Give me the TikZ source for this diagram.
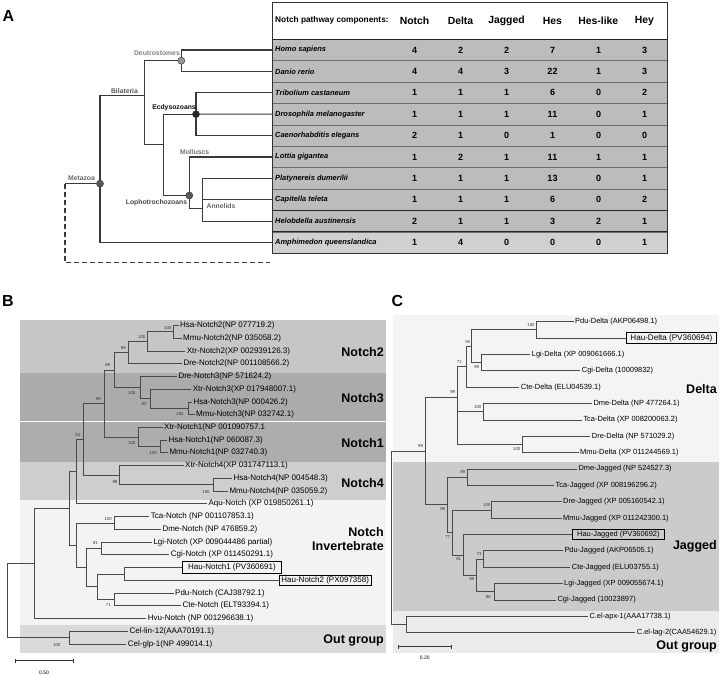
\documentclass[tikz,border=0pt]{standalone}
\usepackage{fontspec}
\setmainfont{Liberation Sans}
\usetikzlibrary{calc}
\definecolor{tline}{HTML}{3A3A3A}
\definecolor{bline}{HTML}{4A4A4A}
\definecolor{rowg}{HTML}{BCBCBC}
\definecolor{rowl}{HTML}{D0D0D0}
\definecolor{rowsep}{HTML}{6E6E6E}
\definecolor{bandNtwo}{HTML}{C6C6C6}
\definecolor{bandNthree}{HTML}{ABABAB}
\definecolor{bandNone}{HTML}{ADADAD}
\definecolor{bandNfour}{HTML}{CECECE}
\definecolor{bandInv}{HTML}{F3F3F3}
\definecolor{bandOutB}{HTML}{DADADA}
\definecolor{bandDelta}{HTML}{F4F4F4}
\definecolor{bandJag}{HTML}{CBCBCB}
\definecolor{bandOutC}{HTML}{EBEBEB}
\tikzset{
 tA/.style={draw=tline, line width=1.1pt},
 tb/.style={draw=bline, line width=0.8pt},
 bl/.style={anchor=west, inner xsep=1.5pt, inner ysep=0pt, font=\fontsize{8}{9}\selectfont},
 cl/.style={anchor=west, inner xsep=1.5pt, inner ysep=0pt, font=\fontsize{7.45}{9}\selectfont},
 hbox/.style={draw=black, line width=0.8pt},
 bs/.style={inner sep=0pt, font=\fontsize{4.3}{5}\selectfont, text=black!80},
 bandlab/.style={anchor=east, inner sep=0pt, align=right, font=\bfseries\fontsize{12.5}{13.4}\selectfont},
 panlab/.style={inner sep=0pt, font=\bfseries\fontsize{16}{16}\selectfont},
 hdr/.style={inner sep=0pt, font=\bfseries\fontsize{10.4}{11}\selectfont},
 sp/.style={anchor=west, inner sep=0pt, font=\bfseries\itshape\fontsize{7.45}{8}\selectfont},
 num/.style={inner sep=0pt, font=\bfseries\fontsize{9}{10}\selectfont},
 clade/.style={inner sep=0pt, font=\bfseries\fontsize{6.8}{7}\selectfont},
 dot/.style={circle, inner sep=0pt, minimum size=7pt, draw=tline, line width=0.5pt},
 sbar/.style={draw=black!80, line width=0.7pt},
 sblab/.style={inner sep=0pt, font=\fontsize{5}{5}\selectfont},
}
\begin{document}
\begin{tikzpicture}[x=1pt,y=-1pt]
\useasboundingbox (0,0) rectangle (721,676);
\fill[white] (0,0) rectangle (721,676);

% ================= Panel A =================
\node[panlab] (labA) at (8.5,16) {A};
% table
\foreach \i in {0,...,8}
  \fill[rowg] (272.3,{39.3+21.4*\i}) rectangle (667.3,{39.3+21.4*(\i+1)});
\fill[rowl] (272.3,231.9) rectangle (667.3,253.3);
\foreach \i in {1,...,9}
  \draw[rowsep, line width=0.7pt] (272.3,{39.3+21.4*\i}) -- (667.3,{39.3+21.4*\i});
\draw[black!85, line width=0.9pt] (272.3,39.3) -- (667.3,39.3);
\draw[black!85, line width=0.9pt] (272.3,210.5) -- (667.3,210.5);
\draw[black!85, line width=0.9pt] (272.3,231.9) -- (667.3,231.9);
\draw[black!80, line width=1pt] (272.3,2.3) rectangle (667.3,253.3);
\node[anchor=west, inner sep=0pt, font=\bfseries\fontsize{8.3}{9}\selectfont] (hdr0) at (275,20.8) {Notch pathway components:};
\foreach \h/\x [count=\j] in {Notch/414.5, Delta/460.5, Jagged/506.5, Hes/552.3, Hes-like/598.3, Hey/644.3}
  \node[hdr] (hdr\j) at (\x,20.8) {\h};
\foreach \n/\vals [count=\i] in {
  Homo sapiens/{4,2,2,7,1,3},
  Danio rerio/{4,4,3,22,1,3},
  Tribolium castaneum/{1,1,1,6,0,2},
  Drosophila melanogaster/{1,1,1,11,0,1},
  Caenorhabditis elegans/{2,1,0,1,0,0},
  Lottia gigantea/{1,2,1,11,1,1},
  Platynereis dumerilii/{1,1,1,13,0,1},
  Capitella teleta/{1,1,1,6,0,2},
  Helobdella austinensis/{2,1,1,3,2,1},
  Amphimedon queenslandica/{1,4,0,0,0,1}}
{
  \node[sp] (sp\i) at (275,{28.6+21.4*\i}) {\n};
  \coordinate (lf\i) at (272.3,{28.6+21.4*\i});
  \foreach \v [count=\j] in \vals
    \node[num] (v\i-\j) at ({368.5+46*\j},{28.6+21.4*\i}) {\v};
}
% tree
\coordinate (deut) at (181.3,60.7);
\coordinate (bil) at (144.3,95.8);
\coordinate (prot) at (163.3,144.9);
\coordinate (ecd) at (196,114.2);
\coordinate (lop) at (189.3,195.5);
\coordinate (ann) at (202.7,208.5);
\coordinate (meta) at (100,183.7);
\coordinate (mroot) at (65,183.7);
\coordinate (dend) at (270,262.7);
\draw[tA] (deut) |- (lf1); \draw[tA] (deut) |- (lf2);
\draw[tA] (bil) |- (deut); \draw[tA] (bil) |- (prot);
\draw[tA] (prot) |- (ecd); \draw[tA] (prot) |- (lop);
\draw[tA] (ecd) |- (lf3); \draw[tA] (ecd) -- (lf4); \draw[tA] (ecd) |- (lf5);
\draw[tA] (lop) |- (lf6); \draw[tA] (lop) |- (ann);
\draw[tA] (ann) |- (lf7); \draw[tA] (ann) |- (lf8); \draw[tA] (ann) |- (lf9);
\draw[tA] (meta) |- (bil); \draw[tA] (meta) |- (lf10);
\draw[tA] (meta) -- (mroot);
\draw[tA, dash pattern=on 5pt off 3pt] (mroot) |- (dend);
\node[dot, fill=black!40] (ndeut) at (deut) {};
\node[dot, fill=black!85] (necd) at (ecd) {};
\node[dot, fill=black!65] (nlop) at (lop) {};
\node[dot, fill=black!65] (nmeta) at (meta) {};
\node[clade, text=black!50, anchor=east] (tDeut) at (180,53.5) {Deutrostomes};
\node[clade, text=black!65] (tBil) at (124.5,90.8) {Bilateria};
\node[clade, text=black!95] (tEcd) at (174,108) {Ecdysozoans};
\node[clade, text=black!55] (tMol) at (194.7,152.5) {Molluscs};
\node[clade, text=black!72] (tLop) at (156.5,202.5) {Lophotrochozoans};
\node[clade, text=black!60] (tAnn) at (221,206) {Annelids};
\node[clade, text=black!60] (tMet) at (81.5,177.7) {Metazoa};

% ================= Panel B =================
\node[panlab] (labB) at (8,301) {B};
\fill[bandNtwo] (20,320) rectangle (386,373.3);
\fill[bandNthree] (20,373.3) rectangle (386,421);
\fill[bandNone] (20,421) rectangle (386,461.7);
\fill[bandNfour] (20,461.7) rectangle (386,500);
\fill[bandInv] (20,500) rectangle (386,625);
\fill[bandOutB] (20,625) rectangle (386,653.3);
\draw[white, line width=0.8pt] (20,421) -- (386,421);
\node[bandlab] (lN2) at (384,351.7) {Notch2};
\node[bandlab] (lN3) at (384,397.7) {Notch3};
\node[bandlab] (lN1) at (384,443.3) {Notch1};
\node[bandlab] (lN4) at (384,483.3) {Notch4};
\node[bandlab] (lNI) at (384,539) {Notch\\Invertebrate};
\node[bandlab] (lOB) at (384,640.7) {Out group};
\foreach \i/\x/\t in {
1/180/{Hsa-Notch2(NP 077719.2)},
2/183/{Mmu-Notch2(NP 035058.2)},
3/186.7/{Xtr-Notch2(XP 002939126.3)},
4/183.3/{Dre-Notch2(NP 001108566.2)},
5/178.3/{Dre-Notch3(NP 571624.2)},
6/192.7/{Xtr-Notch3(XP 017948007.1)},
7/193.3/{Hsa-Notch3(NP 000426.2)},
8/196/{Mmu-Notch3(NP 032742.1)},
9/164/{Xtr-Notch1(NP 001090757.1},
10/168.3/{Hsa-Notch1(NP 060087.3)},
11/169.3/{Mmu-Notch1(NP 032740.3)},
12/185/{Xtr-Notch4(XP 031747113.1)},
13/233.3/{Hsa-Notch4(NP 004548.3)},
14/229.3/{Mmu-Notch4(NP 035059.2)},
15/208.3/{Aqu-Notch (XP 019850261.1)},
16/150.7/{Tca-Notch (NP 001107853.1)},
17/162.3/{Dme-Notch (NP 476859.2)},
18/153.3/{Lgi-Notch (XP 009044486 partial)},
19/170.7/{Cgi-Notch (XP 011450291.1)},
22/175/{Pdu-Notch (CAJ38792.1)},
23/182.3/{Cte-Notch (ELT93394.1)},
24/147.7/{Hvu-Notch (NP 001296638.1)},
25/129.3/{Cel-lin-12(AAA70191.1)},
26/127.7/{Cel-glp-1(NP 499014.1)}}
  \node[bl] (b\i) at ({\x-1.5},{325.5+12.74*(\i-1)}) {\t};
\node[bl, hbox, inner xsep=6pt, inner ysep=2pt] (b20) at (181.7,567.56) {Hau-Notch1 (PV360691)};
\node[bl, hbox, inner xsep=2pt, inner ysep=1.6pt] (b21) at (279,580.3) {Hau-Notch2 (PX097358)};
\coordinate (Na) at (173.3,331.87);
\coordinate (Nb) at (147.7,341.43);
\coordinate (Nc) at (128.3,352.57);
\coordinate (Nd) at (188,408.31);
\coordinate (Ne) at (150,398.76);
\coordinate (Nf) at (140.7,387.61);
\coordinate (Ng) at (114,370.09);
\coordinate (Nh) at (160.7,446.53);
\coordinate (Ni) at (138.3,436.98);
\coordinate (Nj) at (104,403.53);
\coordinate (Nk) at (213.3,484.75);
\coordinate (Nl) at (119.3,475.2);
\coordinate (Nm) at (83.3,439.37);
\coordinate (Nn) at (76.7,471.6);
\coordinate (Np) at (114.3,522.97);
\coordinate (Nq) at (101,548.45);
\coordinate (Nr) at (124.3,573.93);
\coordinate (Ns) at (114.3,599.41);
\coordinate (Nt) at (97.7,586.67);
\coordinate (Nu) at (86.7,567.56);
\coordinate (Nv) at (76.7,545.27);
\coordinate (No) at (69,508.43);
\coordinate (Nw) at (34.3,563.48);
\coordinate (Nx) at (69,637.63);
\coordinate (Nroot) at (7.3,600.55);
\foreach \p/\c in {Na/b1.west, Na/b2.west, Nb/Na, Nb/b3.west, Nc/Nb, Nc/b4.west,
  Nd/b7.west, Nd/b8.west, Ne/b6.west, Ne/Nd, Nf/b5.west, Nf/Ne, Ng/Nc, Ng/Nf,
  Nh/b10.west, Nh/b11.west, Ni/b9.west, Ni/Nh, Nj/Ng, Nj/Ni,
  Nk/b13.west, Nk/b14.west, Nl/b12.west, Nl/Nk, Nm/Nj, Nm/Nl, Nn/Nm, Nn/b15.west,
  Np/b16.west, Np/b17.west, Nq/b18.west, Nq/b19.west, Nr/b20.west, Nr/b21.west,
  Ns/b22.west, Ns/b23.west, Nt/Nr, Nt/Ns, Nu/Nq, Nu/Nt, Nv/Np, Nv/Nu,
  No/Nn, No/Nv, Nw/No, Nw/b24.west, Nx/b25.west, Nx/b26.west, Nroot/Nw, Nroot/Nx}
  \draw[tb] (\p) |- (\c);
\foreach \i/\x/\y/\v in {1/167.7/328.3/100, 2/141.7/337.3/100, 3/123.3/348.3/98,
  4/107.7/365/69, 5/131.7/393.3/100, 6/144/404.3/92, 7/180/414/100, 8/98.3/399.3/98,
  9/131.7/443.3/100, 10/153.3/453.3/100, 11/77.7/435/54, 12/115/481.7/99,
  13/206/491.7/100, 14/108.3/519.3/100, 15/95.3/543.3/91, 16/108.3/605/71, 17/56.7/645/100}
  \node[bs] (bsB\i) at (\x,\y) {\v};
\coordinate (sbBl) at (15,660.7);
\coordinate (sbBr) at (73.3,660.7);
\draw[sbar] (sbBl) -- (sbBr);
\draw[sbar] ([yshift=-1.8pt]sbBl) -- ([yshift=1.8pt]sbBl);
\draw[sbar] ([yshift=-1.8pt]sbBr) -- ([yshift=1.8pt]sbBr);
\node[sblab] (sbBt) at (44,672.7) {0.50};

% ================= Panel C =================
\node[panlab] (labC) at (397.5,301) {C};
\fill[bandDelta] (393.3,315) rectangle (719,461.7);
\fill[bandJag] (393.3,461.7) rectangle (719,610.7);
\fill[bandOutC] (393.3,610.7) rectangle (719,653.3);
\node[bandlab] (lD) at (717,389.3) {Delta};
\node[bandlab] (lJ) at (717,546) {Jagged};
\node[bandlab] (lOC) at (717,646.7) {Out group};
\foreach \i/\x/\t in {
1/575/{Pdu-Delta (AKP06498.1)},
3/531.7/{Lgi-Delta (XP 009061666.1)},
4/581.7/{Cgi-Delta (10009832)},
5/520.7/{Cte-Delta (ELU04539.1)},
6/593.3/{Dme-Delta (NP 477264.1)},
7/583.3/{Tca-Delta (XP 008200063.2)},
8/591.7/{Dre-Delta (NP 571029.2)},
9/580/{Mmu-Delta (XP 011244569.1)},
10/578.3/{Dme-Jagged (NP 524527.3)},
11/555.5/{Tca-Jagged (XP 008196296.2)},
12/563/{Dre-Jagged (XP 005160542.1)},
13/563/{Mmu-Jagged (XP 011242300.1)},
15/564.3/{Pdu-Jagged (AKP06505.1)},
16/571.7/{Cte-Jagged (ELU03755.1)},
17/564/{Lgi-Jagged (XP 009055674.1)},
18/557.3/{Cgi-Jagged (10023897)},
19/589.3/{C.el-apx-1(AAA17738.1)},
20/636.7/{C.el-lag-2(CAA54629.1)}}
  \node[cl] (c\i) at ({\x-1.5},{321.7+16.37*(\i-1)}) {\t};
\node[cl, hbox, inner xsep=4pt, inner ysep=1.4pt, font=\fontsize{8.1}{9}\selectfont] (c2) at (626,338.07) {Hau-Delta (PV360694)};
\node[cl, hbox, inner xsep=4.5pt, inner ysep=1.8pt] (c14) at (572.3,534.51) {Hau-Jagged (PV360692)};
\coordinate (Ca) at (536.7,329.89);
\coordinate (Cb) at (481.7,362.63);
\coordinate (Cc) at (471.7,346.26);
\coordinate (Cd) at (466,366.72);
\coordinate (Ce) at (483.3,411.74);
\coordinate (Cf) at (522.7,444.48);
\coordinate (Cg) at (457.7,428.11);
\coordinate (Ch) at (457,397.42);
\coordinate (Ci) at (467.3,477.22);
\coordinate (Cj) at (491.7,509.96);
\coordinate (Ck) at (483.3,559.07);
\coordinate (Cl) at (494,591.81);
\coordinate (Cm) at (476.7,575.44);
\coordinate (Cn) at (463.3,554.98);
\coordinate (Co) at (452.3,532.47);
\coordinate (Cp) at (447.7,504.85);
\coordinate (Cq) at (425,451.14);
\coordinate (Cr) at (406.7,624.55);
\coordinate (Croot) at (391,537.85);
\foreach \p/\c in {Ca/c1.west, Ca/c2.west, Cb/c3.west, Cb/c4.west, Cc/Ca, Cc/Cb,
  Cd/Cc, Cd/c5.west, Ce/c6.west, Ce/c7.west, Cf/c8.west, Cf/c9.west, Cg/Ce, Cg/Cf,
  Ch/Cd, Ch/Cg, Ci/c10.west, Ci/c11.west, Cj/c12.west, Cj/c13.west,
  Ck/c15.west, Ck/c16.west, Cl/c17.west, Cl/c18.west, Cm/Ck, Cm/Cl,
  Cn/c14.west, Cn/Cm, Co/Cj, Co/Cn, Cp/Ci, Cp/Co, Cq/Ch, Cq/Cp,
  Cr/c19.west, Cr/c20.west, Croot/Cq, Croot/Cr}
  \draw[tb] (\p) |- (\c);
\foreach \i/\x/\y/\v in {1/531/325/100, 2/476.7/367.3/99, 3/467.7/341.7/55,
  4/459.3/362.3/71, 5/477.7/407.3/100, 6/516.7/449.3/100, 7/452.7/391.7/99,
  8/462.7/472.3/99, 9/486.7/505/100, 10/479/554.3/73, 11/488.3/596.7/98,
  12/471.7/579/89, 13/458.7/559.3/81, 14/447.7/537.3/77, 15/442.7/509/99, 16/420.5/446/99}
  \node[bs] (bsC\i) at (\x,\y) {\v};
\coordinate (sbCl) at (398.3,646.7);
\coordinate (sbCr) at (451,646.7);
\draw[sbar] (sbCl) -- (sbCr);
\draw[sbar] ([yshift=-1.8pt]sbCl) -- ([yshift=1.8pt]sbCl);
\draw[sbar] ([yshift=-1.8pt]sbCr) -- ([yshift=1.8pt]sbCr);
\node[sblab] (sbCt) at (424.7,657.7) {0.20};
\end{tikzpicture}
\end{document}
